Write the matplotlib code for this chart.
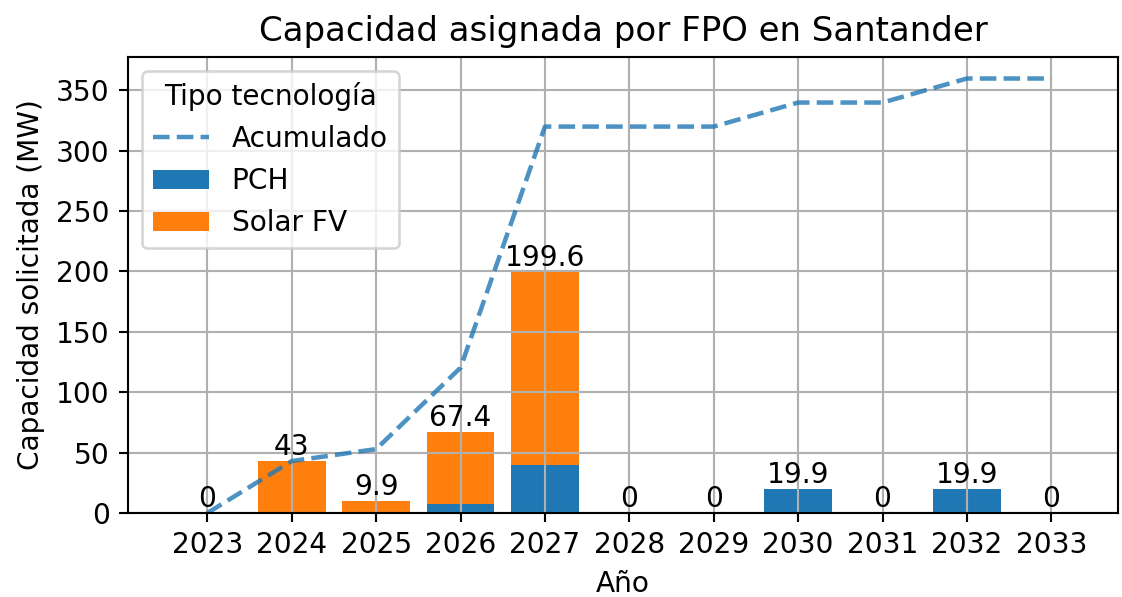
import matplotlib.pyplot as plt

# datos por año (MW)
anios = [2023, 2024, 2025, 2026, 2027, 2028, 2029, 2030, 2031, 2032, 2033]
pch = [0, 0, 0, 7.4, 39.8, 0, 0, 19.9, 0, 19.9, 0]
solar_fv = [0, 43, 9.9, 60.0, 159.8, 0, 0, 0, 0, 0, 0]
acumulado = [0, 43, 52.9, 120.3, 319.9, 319.9, 319.9, 339.8, 339.8, 359.7, 359.7]

plt.rcParams['font.size'] = 10.6

dpi = 190
fig = plt.figure(figsize=(1122 / dpi, 597 / dpi), dpi=dpi)
ax = fig.add_axes([0.1141, 0.1407, 0.8823, 0.7638])

ax.plot(anios, acumulado, linestyle='--', color='C0', alpha=0.8, linewidth=1.7, label='Acumulado')
ax.bar(anios, pch, width=0.8, color='C0', label='PCH')
bars_solar = ax.bar(anios, solar_fv, width=0.8, bottom=pch, color='C1', label='Solar FV')
ax.bar_label(bars_solar)

ax.set_xticks(anios)
ax.set_xlim(anios[0] - 0.94, anios[-1] + 0.79)
ax.set_ylim(0, 377.5)
ax.grid(True)
ax.set_title('Capacidad asignada por FPO en Santander', fontsize=12.9)
ax.set_xlabel('Año')
ax.set_ylabel('Capacidad solicitada (MW)')
ax.legend(title='Tipo tecnología', title_fontsize=10.6, loc='upper left')

plt.savefig('out.png', dpi=dpi)
plt.close()
